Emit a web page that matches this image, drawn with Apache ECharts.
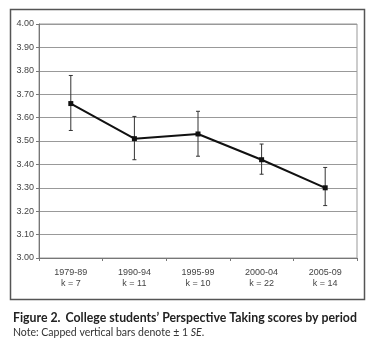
<!DOCTYPE html>
<html>
<head>
<meta charset="utf-8">
<script src="https://cdn.jsdelivr.net/npm/echarts@6/dist/echarts.min.js"></script>
<style>html,body{margin:0;padding:0;background:#fff;}#c{width:372px;height:350px;}</style>
</head>
<body>
<div id="c"></div>
<script>
var periods = ['1979-89', '1990-94', '1995-99', '2000-04', '2005-09'];
var kCounts = [7, 11, 10, 22, 14];
var means = [3.66, 3.51, 3.53, 3.42, 3.30];
var upperSE = [3.78, 3.605, 3.627, 3.487, 3.387];
var lowerSE = [3.545, 3.42, 3.435, 3.358, 3.224];
var yTicks = ['3.00','3.10','3.20','3.30','3.40','3.50','3.60','3.70','3.80','3.90','4.00'];

var chart = echarts.init(document.getElementById('c'), null, {renderer: 'canvas'});
var errData = periods.map(function (p, i) { return [i, lowerSE[i], upperSE[i]]; });

chart.setOption({
  animation: false,
  backgroundColor: '#fff',
  title: {
    left: 8, top: 304, itemGap: 0,
    text: '{b|Figure 2.} {n|College students\u2019 Perspective Taking scores by period}',
    textStyle: {
      rich: {
        b: {fontFamily: 'Lato', fontWeight: 'bold', fontSize: 12.3, color: '#222'},
        n: {fontFamily: 'Lato', fontSize: 12.3, color: '#222'}
      }
    },
    subtext: '{n|Note: Capped vertical bars denote \u00b1 1 }{i|SE}{n|.}',
    subtextStyle: {
      rich: {
        n: {fontFamily: 'Lato', fontSize: 10.5, color: '#333'},
        i: {fontFamily: 'Lato', fontSize: 10.5, fontStyle: 'italic', color: '#333'}
      }
    }
  },
  graphic: [{
    type: 'rect', left: 8, top: 7, z: -1,
    shape: {width: 354, height: 290},
    style: {fill: 'none', stroke: '#555', lineWidth: 1.5}
  }],
  grid: {left: 39, right: 15, top: 24, height: 234, show: true, borderColor: '#999', borderWidth: 1},
  xAxis: {
    type: 'category', data: periods, boundaryGap: true,
    axisLine: {lineStyle: {color: '#777'}},
    axisTick: {show: true, length: 3, lineStyle: {color: '#777'}},
    axisLabel: {
      margin: 9, fontFamily: 'Arial', fontSize: 9, lineHeight: 11, color: '#444',
      formatter: function (v, i) { return v + '\nk = ' + kCounts[i]; }
    },
    splitLine: {show: false}
  },
  yAxis: {
    type: 'value', min: 3, max: 4, interval: 0.1,
    axisLine: {show: true, lineStyle: {color: '#777'}},
    axisTick: {show: true, length: 3, lineStyle: {color: '#777'}},
    axisLabel: {
      margin: 5, fontFamily: 'Arial', fontSize: 9, color: '#444',
      formatter: function (v) { return yTicks[Math.round((v - 3) * 10)]; }
    },
    splitLine: {lineStyle: {color: '#999', width: 1}}
  },
  series: [{
    type: 'custom',
    data: errData,
    z: 2,
    renderItem: function (params, api) {
      var x = api.value(0);
      var lo = api.coord([x, api.value(1)]);
      var hi = api.coord([x, api.value(2)]);
      var w = 2;
      var st = {stroke: '#333', lineWidth: 1};
      return {
        type: 'group',
        children: [
          {type: 'line', shape: {x1: lo[0], y1: lo[1], x2: hi[0], y2: hi[1]}, style: st},
          {type: 'line', shape: {x1: lo[0] - w, y1: lo[1], x2: lo[0] + w, y2: lo[1]}, style: st},
          {type: 'line', shape: {x1: hi[0] - w, y1: hi[1], x2: hi[0] + w, y2: hi[1]}, style: st}
        ]
      };
    }
  }, {
    type: 'line',
    data: means,
    z: 3,
    symbol: 'rect', symbolSize: 5,
    lineStyle: {color: '#111', width: 2},
    itemStyle: {color: '#111'}
  }]
});
</script>
</body>
</html>
